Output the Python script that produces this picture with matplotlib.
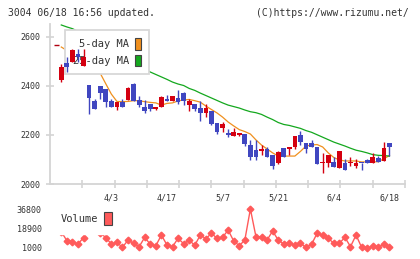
import numpy as np
import matplotlib
matplotlib.use("Agg")
import matplotlib.pyplot as plt
from matplotlib.patches import Patch

# daily candles (60 trading days, last = 6/18)
opens = [2425, 2495, 2499, 2531, 2483, 2404, 2339, 2400, 2388, 2339,
         2316, 2336, 2343, 2408, 2343, 2314, 2327, 2306, 2316, 2347,
         2339, 2352, 2371, 2322, 2327, 2310, 2290, 2298, 2249, 2229,
         2208, 2196, 2200, 2204, 2159, 2139, 2135, 2143, 2118, 2084,
         2147, 2143, 2151, 2200, 2167, 2167, 2151, 2084, 2087, 2090,
         2067, 2086, 2087, 2075, 2087, 2098, 2084, 2106, 2094, 2167]
closes = [2479, 2479, 2547, 2520, 2520, 2352, 2307, 2373, 2334, 2316,
          2336, 2316, 2393, 2339, 2321, 2298, 2306, 2314, 2355, 2339,
          2359, 2334, 2339, 2339, 2306, 2290, 2310, 2245, 2212, 2245,
          2200, 2212, 2208, 2163, 2110, 2110, 2143, 2110, 2075, 2131,
          2109, 2151, 2196, 2171, 2143, 2151, 2082, 2090, 2118, 2071,
          2135, 2057, 2091, 2087, 2084, 2084, 2110, 2090, 2147, 2151]
highs = [2489, 2520, 2551, 2551, 2551, 2404, 2347, 2400, 2388, 2347,
         2336, 2347, 2397, 2411, 2360, 2343, 2327, 2314, 2359, 2363,
         2359, 2384, 2377, 2347, 2327, 2339, 2327, 2298, 2249, 2253,
         2224, 2229, 2208, 2204, 2180, 2180, 2159, 2151, 2118, 2135,
         2147, 2151, 2196, 2216, 2167, 2180, 2151, 2125, 2118, 2110,
         2135, 2102, 2110, 2102, 2087, 2102, 2127, 2114, 2171, 2167]
lows = [2416, 2458, 2499, 2499, 2483, 2285, 2307, 2347, 2316, 2316,
        2302, 2316, 2343, 2339, 2316, 2291, 2298, 2302, 2316, 2339,
        2339, 2327, 2322, 2298, 2298, 2257, 2273, 2241, 2204, 2212,
        2192, 2196, 2196, 2155, 2098, 2098, 2118, 2110, 2061, 2080,
        2109, 2118, 2143, 2159, 2127, 2151, 2082, 2046, 2071, 2071,
        2067, 2057, 2073, 2067, 2057, 2084, 2084, 2090, 2094, 2114]

ma5 = [2559, 2545, 2535, 2525, 2510, 2495, 2475, 2452, 2409, 2367,
       2337, 2336, 2337, 2340, 2340, 2336, 2333, 2331, 2322, 2329,
       2331, 2339, 2343, 2345, 2340, 2334, 2318, 2304, 2290, 2273,
       2253, 2237, 2222, 2214, 2204, 2180, 2159, 2143, 2127, 2114,
       2114, 2114, 2114, 2133, 2155, 2159, 2161, 2151, 2127, 2108,
       2098, 2094, 2094, 2094, 2090, 2090, 2090, 2091, 2103, 2116]
ma25 = [2649, 2641, 2634, 2623, 2610, 2598, 2586, 2571, 2559, 2545,
        2531, 2516, 2502, 2490, 2480, 2469, 2457, 2447, 2437, 2427,
        2416, 2408, 2402, 2390, 2382, 2371, 2361, 2351, 2341, 2331,
        2322, 2316, 2310, 2302, 2295, 2291, 2284, 2273, 2263, 2251,
        2243, 2239, 2233, 2227, 2218, 2211, 2201, 2191, 2181, 2171,
        2163, 2155, 2146, 2138, 2133, 2127, 2120, 2117, 2116, 2114]

volume = [16000, 7700, 6800, 4700, 10500, 22000, 18000, 15000, 10500, 4700,
          6200, 1600, 8300, 5300, 2200, 10800, 4400, 3100, 12900, 3750,
          2200, 9900, 4900, 8100, 3500, 12900, 9500, 14500, 9900, 10800,
          17500, 7400, 3100, 8300, 36800, 11400, 11400, 8300, 16600, 8300,
          4700, 5300, 3750, 5300, 1600, 4400, 14500, 12900, 9900, 5300,
          5300, 10800, 2200, 12900, 1600, 1000, 2800, 1600, 4700, 1600]

date_idx = [9, 19, 29, 39, 49, 59]
date_labels = ["4/3", "4/17", "5/7", "5/21", "6/4", "6/18"]
price_ticks = [2000, 2200, 2400, 2600]
vol_ticks = [1000, 18900, 36800]
prev_mark = 2567

RED = "#d40010"
BLUE = "#4046c0"
ORANGE = "#f0901e"
GREEN = "#14a81e"
VOLC = "#ff5a5a"
GRID = "#d4d4d4"
TXT = "#333333"
MONO = "DejaVu Sans Mono"

W, H = 420, 259
fig = plt.figure(figsize=(W / 100, H / 100), dpi=100)
fig.patch.set_facecolor("white")

def rect(x0, y0, x1, y1):
    return [x0 / W, 1 - y1 / H, (x1 - x0) / W, (y1 - y0) / H]

x = np.arange(len(closes))
xmin, xmax = -2.03, 61.8

ax = fig.add_axes(rect(50, 24, 405, 184))
ax.set_xlim(xmin, xmax)
ax.set_ylim(2000, 2653)

# moving averages under the legend
ax.plot(x, ma5, color=ORANGE, lw=0.9, zorder=2)
ax.plot(x, ma25, color=GREEN, lw=0.9, zorder=2)

o = np.array(opens); c = np.array(closes)
up = c >= o
cols = np.where(up, RED, BLUE)
bottoms = np.minimum(o, c)
heights = np.maximum(np.abs(c - o), 4)
ax.vlines(x, lows, highs, colors=cols, lw=1, zorder=4)
ax.bar(x, heights, bottom=bottoms, width=0.85, color=cols, zorder=5)
ax.hlines(prev_mark, xmin + 0.7, -0.4, colors="#b00010", lw=1, zorder=4)

for s in ["top", "right"]:
    ax.spines[s].set_visible(False)
for s in ["left", "bottom"]:
    ax.spines[s].set_color(GRID)
    ax.spines[s].set_linewidth(1.3)

ax.set_yticks(price_ticks)
ax.set_yticklabels([str(v) for v in price_ticks])
ax.tick_params(axis="y", direction="inout", length=6, width=1.2, color=GRID,
               labelsize=6, labelcolor=TXT, pad=4)
ax.set_xticks(np.linspace(xmin, xmax, 12)[1:])
ax.set_xticklabels([])
ax.tick_params(axis="x", which="major", direction="inout", length=6, width=1.2, color=GRID)
ax.set_xticks(date_idx, minor=True)
ax.set_xticklabels(date_labels, minor=True)
ax.tick_params(axis="x", which="minor", length=0, labelsize=6, labelcolor=TXT, pad=7)
for t in ax.get_xticklabels(minor=True) + ax.get_yticklabels():
    t.set_family(MONO)

leg = ax.legend([Patch(fc=ORANGE, ec="#444444", lw=0.8), Patch(fc=GREEN, ec="#444444", lw=0.8)],
                ["5-day MA", "25-day MA"], loc="upper left", bbox_to_anchor=(0.042, 0.9625),
                borderaxespad=0, markerfirst=False, fancybox=False, framealpha=1,
                edgecolor="#d8d8d8", prop={"family": MONO, "size": 7.5},
                handlelength=0.6, handleheight=1.35, handletextpad=0.6,
                labelspacing=0.5, borderpad=0.75)
leg.get_frame().set_linewidth(1.3)
for t in leg.get_texts():
    t.set_color(TXT)
leg.set_zorder(3)

# volume panel
axv = fig.add_axes(rect(50, 204, 405, 252))
axv.set_xlim(xmin, xmax)
axv.set_ylim(1000 - 4 * 918, 36800 + 5 * 918)
axv.plot(x, volume, color=VOLC, lw=1, marker="D", ms=3.4, zorder=2)
for s in axv.spines.values():
    s.set_visible(False)
axv.set_xticks([])
axv.set_yticks(vol_ticks)
axv.set_yticklabels([str(v) for v in vol_ticks])
axv.tick_params(axis="y", length=0, labelsize=6, labelcolor=TXT, pad=6)
for t in axv.get_yticklabels():
    t.set_family(MONO)
vleg = axv.legend([Patch(fc=VOLC, ec="#444444", lw=0.8)], ["Volume"],
                  loc="upper left", bbox_to_anchor=(0.005, 1.02), borderaxespad=0,
                  markerfirst=False, frameon=True, fancybox=False, framealpha=1,
                  edgecolor="white", prop={"family": MONO, "size": 7.5},
                  handlelength=0.7, handleheight=1.6, handletextpad=0.6, borderpad=0.85)
vleg.get_texts()[0].set_color(TXT)
vleg.set_zorder(3)

fig.text(8 / W, 1 - 13 / H, "3004 06/18 16:56 updated.", family=MONO, fontsize=7,
         color=TXT, va="center", ha="left")
fig.text(409 / W, 1 - 13 / H, "(C)https://www.rizumu.net/", family=MONO, fontsize=7,
         color=TXT, va="center", ha="right")

fig.savefig("out.png", dpi=100)
